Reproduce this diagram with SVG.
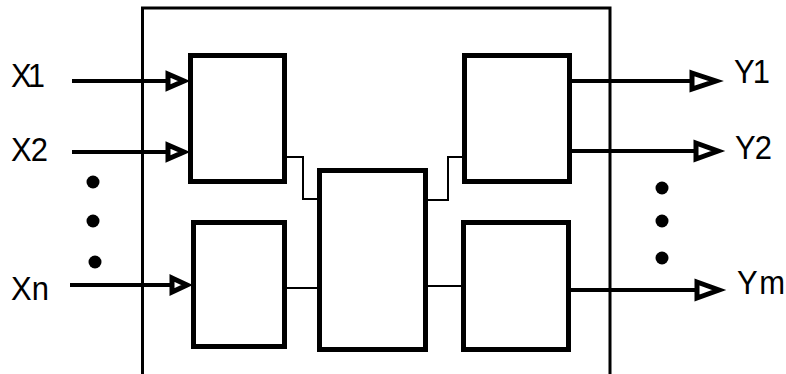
<svg xmlns="http://www.w3.org/2000/svg" width="786" height="374" viewBox="0 0 786 374">
<style>
.box{fill:#fff;stroke:#000;stroke-width:5}
.frame{fill:none;stroke:#000;stroke-width:3}
.thin{fill:none;stroke:#000;stroke-width:2}
.sig{fill:none;stroke:#000;stroke-width:4}
.arr{fill:#fff;stroke:#000;stroke-width:5;stroke-linejoin:miter}
.lbl{font-family:"Liberation Sans",Arial,sans-serif;font-size:31px;fill:#000}
.dot{fill:#000}
</style>
<rect width="786" height="374" fill="#fff"/>
<g id="frame"><path class="frame" d="M142.5,374 V8 H610 V374"/></g>
<g id="connectors">
<line class="sig" x1="72" y1="81" x2="168" y2="81"/>
<line class="sig" x1="72" y1="152" x2="168" y2="152"/>
<line class="sig" x1="70" y1="285" x2="172" y2="285"/>
<line class="sig" x1="572" y1="81" x2="692" y2="81"/>
<line class="sig" x1="572" y1="151" x2="696" y2="151"/>
<line class="sig" x1="571" y1="290" x2="697" y2="290"/>
<path class="thin" d="M287,157 H303 V199 H317"/>
<line class="thin" x1="287" y1="288" x2="317" y2="288"/>
<path class="thin" d="M428,200 H448 V157 H462"/>
<line class="thin" x1="428" y1="286" x2="461" y2="286"/>
<polygon class="arr" points="168,74 184,81 168,88"/>
<polygon class="arr" points="168,145 184,152 168,159"/>
<polygon class="arr" points="172,278 187,285 172,292"/>
<polygon class="arr" points="692,73 716,81 692,89"/>
<polygon class="arr" points="696,143 718,151 696,159"/>
<polygon class="arr" points="697,282 719,290 697,298"/>
</g>
<g id="box-in1"><rect class="box" x="190.5" y="55.5" width="94" height="126"/></g>
<g id="box-inn"><rect class="box" x="193.5" y="222.5" width="91" height="124"/></g>
<g id="box-center"><rect class="box" x="319.5" y="170.5" width="106" height="179"/></g>
<g id="box-out1"><rect class="box" x="464.5" y="55.5" width="105" height="126"/></g>
<g id="box-outm"><rect class="box" x="463.5" y="222.5" width="105" height="127"/></g>
<g id="dots-in"><circle class="dot" cx="93" cy="182" r="6.5"/><circle class="dot" cx="93" cy="221" r="6.5"/><circle class="dot" cx="95" cy="262" r="6.5"/></g>
<g id="dots-out"><circle class="dot" cx="662" cy="188" r="6.5"/><circle class="dot" cx="662" cy="221" r="6.5"/><circle class="dot" cx="662" cy="258" r="6.5"/></g>
<g id="labels">
<text class="lbl" x="11" y="87" transform="translate(0,-8.7) scale(1,1.1)" textLength="34">X1</text>
<text class="lbl" x="11" y="161" transform="translate(0,-16) scale(1,1.1)" textLength="37">X2</text>
<text class="lbl" x="11" y="300" transform="translate(0,-30) scale(1,1.1)" textLength="38">Xn</text>
<text class="lbl" x="734" y="83" transform="translate(0,-8.3) scale(1,1.1)" textLength="36">Y1</text>
<text class="lbl" x="735" y="159" transform="translate(0,-15.9) scale(1,1.1)" textLength="37">Y2</text>
<text class="lbl" x="737" y="294" transform="translate(0,-29.4) scale(1,1.1)" textLength="48">Ym</text>
</g>
</svg>
